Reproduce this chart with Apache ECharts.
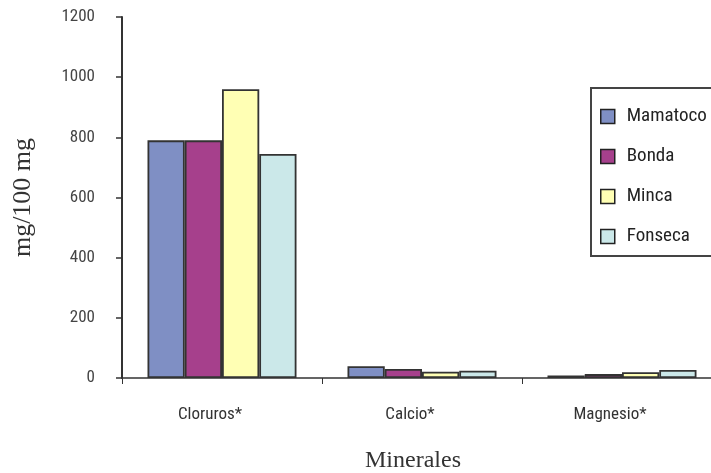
<!DOCTYPE html>
<html><head><meta charset="utf-8">
<script src="https://cdn.jsdelivr.net/npm/echarts@6/dist/echarts.min.js"></script>
<style>html,body{margin:0;padding:0;background:#fff}#c{width:711px;height:473px}</style>
</head><body><div id="c"></div>
<script>
var categories = ['Cloruros*', 'Calcio*', 'Magnesio*'];
var seriesNames = ['Mamatoco', 'Bonda', 'Minca', 'Fonseca'];
var mamatoco = [790, 39, 8];
var bonda = [790, 30, 13];
var minca = [960, 21, 19];
var fonseca = [745, 24, 27];
var yTicks = [0, 200, 400, 600, 800, 1000, 1200];

var colors = ['#7f8fc4', '#a6408c', '#ffffb4', '#cbe8e9'];
var values = [mamatoco, bonda, minca, fonseca];
var narrow = '"Liberation Sans Narrow", "Roboto Condensed", "Arial Narrow", "Liberation Sans", sans-serif';
var serif = '"Liberation Serif", "DejaVu Serif", serif';

var chart = echarts.init(document.getElementById('c'));
chart.setOption({
  animation: false,
  backgroundColor: '#fff',
  color: colors,
  grid: { left: 122, top: 17, right: -11, bottom: 95, outerBoundsMode: 'none', containLabel: false },
  legend: {
    orient: 'vertical',
    left: 591, top: 88,
    padding: [19, 60, 10, 9],
    itemGap: 21,
    itemWidth: 14, itemHeight: 14,
    icon: 'rect',
    borderColor: '#444', borderWidth: 2,
    backgroundColor: '#fff',
    itemStyle: { borderColor: '#222', borderWidth: 1.5 },
    textStyle: { fontFamily: narrow, fontSize: 19, color: '#222', padding: [0, 0, 0, 7] },
    data: seriesNames
  },
  xAxis: {
    type: 'category',
    data: categories,
    name: 'Minerales',
    nameLocation: 'middle',
    nameGap: 71,
    nameTextStyle: { fontFamily: serif, fontSize: 24, color: '#333', padding: [0, 18, 0, 0] },
    axisLine: { lineStyle: { color: '#333', width: 1.5 } },
    axisTick: { show: true, length: 6, lineStyle: { color: '#333' }, inside: false },
    axisLabel: { fontFamily: narrow, fontSize: 17, color: '#333', margin: 28, padding: [0, 24, 0, 0] }
  },
  yAxis: {
    type: 'value',
    min: 0, max: 1200, interval: 200,
    name: 'mg/100 mg',
    nameLocation: 'middle',
    nameGap: 86,
    nameRotate: 90,
    nameTextStyle: { fontFamily: serif, fontSize: 26, color: '#333' },
    splitLine: { show: false },
    axisLine: { show: true, lineStyle: { color: '#333', width: 2 } },
    axisTick: { show: true, length: 6, lineStyle: { color: '#333', width: 1.5 } },
    axisLabel: { fontFamily: narrow, fontSize: 17, color: '#444', margin: 27,
      formatter: function (v) { return yTicks.indexOf(v) >= 0 ? String(v) : ''; } }
  },
  series: seriesNames.map(function (n, i) {
    return {
      name: n, type: 'bar', data: values[i],
      barGap: '0%', barCategoryGap: '25.5%',
      itemStyle: { color: colors[i], borderColor: '#333', borderWidth: 1.8 }
    };
  })
});
</script></body></html>
